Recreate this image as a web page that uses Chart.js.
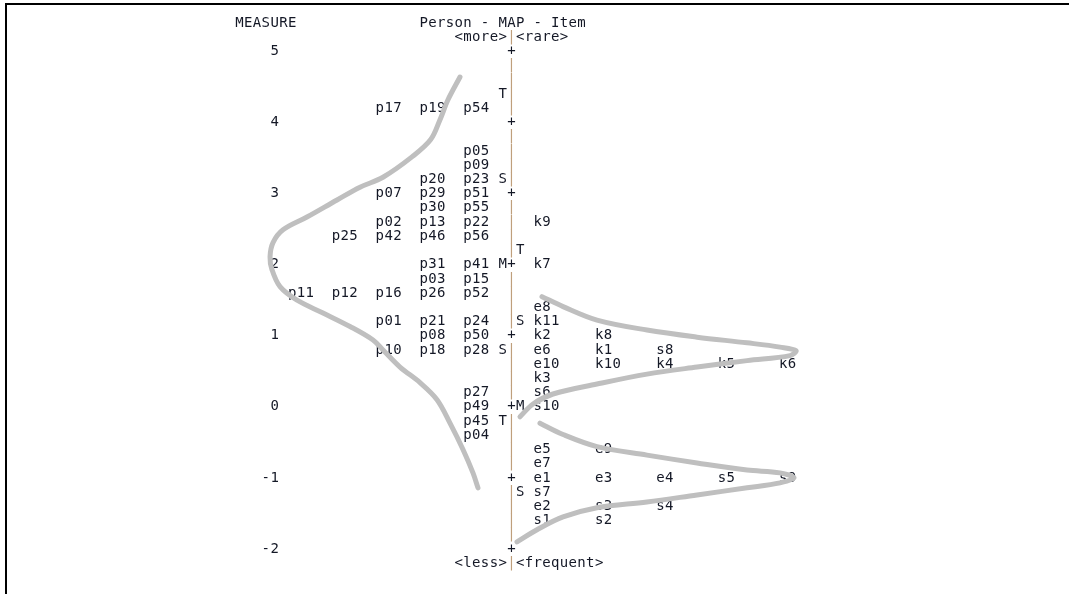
<!DOCTYPE html>
<html>
<head>
<meta charset="utf-8">
<script src="https://cdn.jsdelivr.net/npm/chart.js@4.4.1/dist/chart.umd.min.js"></script>
<style>
  body { margin: 0; background: #fff; }
  #wrap { position: relative; width: 1069px; height: 594px; overflow: hidden; }
  #frame { position: absolute; left: 5px; top: 3px; right: -5px; bottom: -5px;
           border-top: 2px solid #000; border-left: 2px solid #000; pointer-events: none; }
</style>
</head>
<body>
<div id="wrap">
  <canvas id="map" width="1069" height="594"></canvas>
  <div id="frame"></div>
</div>
<script>
// measure axis labels
const measureTicks = [5, 4, 3, 2, 1, 0, -1, -2];

// persons (left side), each row right-aligned against the axis
const personMeasures = [4.2, 3.6, 3.4, 3.2, 3.0, 2.8, 2.6, 2.4, 2.0, 1.8, 1.6, 1.2, 1.0, 0.8, 0.2, 0.0, -0.2, -0.4];
const personIds = [
    ['p17', 'p19', 'p54'],
    ['p05'],
    ['p09'],
    ['p20', 'p23'],
    ['p07', 'p29', 'p51'],
    ['p30', 'p55'],
    ['p02', 'p13', 'p22'],
    ['p25', 'p42', 'p46', 'p56'],
    ['p31', 'p41'],
    ['p03', 'p15'],
    ['p11', 'p12', 'p16', 'p26', 'p52'],
    ['p01', 'p21', 'p24'],
    ['p08', 'p50'],
    ['p10', 'p18', 'p28'],
    ['p27'],
    ['p49'],
    ['p45'],
    ['p04']
];

// items (right side)
const itemMeasures = [2.6, 2.0, 1.4, 1.2, 1.0, 0.8, 0.6, 0.4, 0.2, 0.0, -0.6, -0.8, -1.0, -1.2, -1.4, -1.6];
const itemIds = [
    ['k9'],
    ['k7'],
    ['e8'],
    ['k11'],
    ['k2', 'k8'],
    ['e6', 'k1', 's8'],
    ['e10', 'k10', 'k4', 'k5', 'k6'],
    ['k3'],
    ['s6'],
    ['s10'],
    ['e5', 'e9'],
    ['e7'],
    ['e1', 'e3', 'e4', 's5', 's9'],
    ['s7'],
    ['e2', 's3', 's4'],
    ['s1', 's2']
];

// M / S / T markers
const personMarkLabels = ['T', 'S', 'M', 'S', 'T'];
const personMarkMeasures = [4.4, 3.2, 2.0, 0.8, -0.2];
const itemMarkLabels = ['T', 'S', 'M', 'S'];
const itemMarkMeasures = [2.2, 1.2, 0.0, -1.2];

// hand drawn distribution curves (x in text columns, y in measure)
const personCurve = [
    [52.64, 4.64], [51.27, 4.32], [50.36, 4.04], [49.30, 3.76], [47.20, 3.52], [43.86, 3.23],
    [41.24, 3.09], [38.62, 2.91], [35.19, 2.67], [32.46, 2.49], [31.32, 2.31], [30.98, 2.11],
    [31.20, 1.93], [32.12, 1.69], [34.06, 1.50], [37.02, 1.32], [40.10, 1.13], [42.72, 0.94],
    [43.86, 0.80], [45.80, 0.56], [48.08, 0.34], [50.02, 0.10], [51.50, -0.23], [52.98, -0.60],
    [54.12, -0.93], [54.69, -1.14]
];
const upperItemCurve = [
    [61.99, 1.55], [64.39, 1.41], [68.26, 1.22], [73.96, 1.08], [79.67, 0.98], [85.37, 0.90],
    [89.13, 0.84], [90.95, 0.79], [90.27, 0.72], [85.37, 0.65], [79.67, 0.56], [73.96, 0.46],
    [68.26, 0.32], [63.25, 0.18], [60.97, 0.04], [59.48, -0.14]
];
const lowerItemCurve = [
    [61.76, -0.23], [64.39, -0.39], [68.26, -0.56], [73.96, -0.68], [79.67, -0.79], [85.37, -0.89],
    [89.13, -0.93], [90.73, -1.00], [89.13, -1.07], [85.37, -1.14], [79.67, -1.24], [73.96, -1.34],
    [68.26, -1.42], [64.39, -1.55], [61.42, -1.73], [59.14, -1.90]
];

const textColor = '#141826';
const barColor = '#bf9f7c';
const curveColor = '#bfbfbf';

const axisCol = 58;      // column of the | axis
const personCol = 53;    // rightmost person column
const itemCol = 61;      // first item column

// draws a string one character per text column
function putText(ctx, xs, ys, str, col, m) {
    for (let i = 0; i < str.length; i++) {
        const ch = str[i];
        if (ch === ' ') continue;
        ctx.fillStyle = ch === '|' ? barColor : textColor;
        ctx.fillText(ch, xs.getPixelForValue(col + i + 0.5), ys.getPixelForValue(m));
    }
}

const mapText = {
    id: 'mapText',
    beforeDatasetsDraw(chart) {
        const ctx = chart.ctx;
        const xs = chart.scales.x;
        const ys = chart.scales.y;
        ctx.save();
        ctx.font = '14px "DejaVu Sans Mono"';
        ctx.textAlign = 'center';
        ctx.textBaseline = 'middle';

        putText(ctx, xs, ys, 'MEASURE', 27, 5.4);
        putText(ctx, xs, ys, 'Person - MAP - Item', 48, 5.4);
        putText(ctx, xs, ys, '<more>|<rare>', 52, 5.2);
        putText(ctx, xs, ys, '<less>|<frequent>', 52, -2.2);

        measureTicks.forEach(t => {
            const s = String(t);
            putText(ctx, xs, ys, s, 32 - s.length, t);
        });

        // axis column
        for (let k = 25; k >= -10; k--) {
            putText(ctx, xs, ys, k % 5 === 0 ? '+' : '|', axisCol, k / 5);
        }

        personMarkLabels.forEach((l, i) => putText(ctx, xs, ys, l, axisCol - 1, personMarkMeasures[i]));
        itemMarkLabels.forEach((l, i) => putText(ctx, xs, ys, l, axisCol + 1, itemMarkMeasures[i]));

        personIds.forEach((row, r) => {
            row.forEach((id, i) => {
                const col = personCol - 5 * (row.length - 1 - i);
                putText(ctx, xs, ys, id, col, personMeasures[r]);
            });
        });

        itemIds.forEach((row, r) => {
            row.forEach((id, i) => {
                putText(ctx, xs, ys, id, itemCol + 7 * i, itemMeasures[r]);
            });
        });
        ctx.restore();
    }
};

function curveSet(pts) {
    return {
        data: pts.map(p => ({ x: p[0], y: p[1] })),
        showLine: true,
        borderColor: curveColor,
        borderWidth: 5,
        borderCapStyle: 'round',
        borderJoinStyle: 'round',
        tension: 0.35,
        pointRadius: 0,
        fill: false
    };
}

new Chart(document.getElementById('map'), {
    type: 'scatter',
    data: {
        datasets: [curveSet(personCurve), curveSet(upperItemCurve), curveSet(lowerItemCurve)]
    },
    options: {
        responsive: false,
        animation: false,
        layout: { padding: 0 },
        plugins: { legend: { display: false }, tooltip: { enabled: false } },
        scales: {
            x: { type: 'linear', display: false, min: 0.19, max: 122.08 },
            y: { type: 'linear', display: false, min: -2.634, max: 5.724 }
        }
    },
    plugins: [mapText]
});
</script>
</body>
</html>
